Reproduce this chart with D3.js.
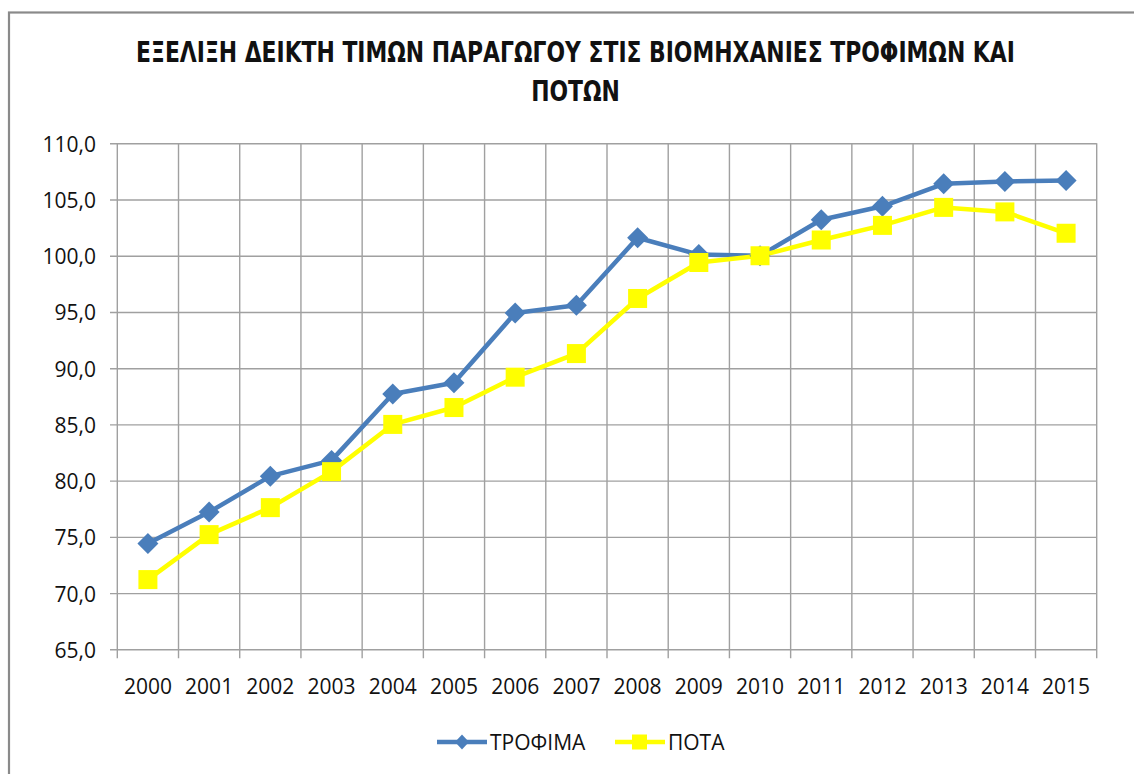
<!DOCTYPE html>
<html>
<head>
<meta charset="utf-8">
<script src="https://cdn.jsdelivr.net/npm/d3@7"></script>
<style>
  html, body { margin: 0; padding: 0; background: #fff; }
  svg { display: block; }
</style>
</head>
<body>
<svg id="chart" width="1134" height="774"></svg>
<script>
const years = ["2000","2001","2002","2003","2004","2005","2006","2007","2008","2009","2010","2011","2012","2013","2014","2015"];
const trofima = [74.4, 77.2, 80.4, 81.8, 87.7, 88.7, 94.9, 95.6, 101.6, 100.1, 100.0, 103.2, 104.4, 106.4, 106.6, 106.7];
const pota = [71.2, 75.2, 77.6, 80.8, 85.0, 86.5, 89.2, 91.3, 96.2, 99.4, 100.0, 101.4, 102.7, 104.3, 103.9, 102.0];
const yTicks = [65, 70, 75, 80, 85, 90, 95, 100, 105, 110];
const seriesNames = ["ΤΡΟΦΙΜΑ", "ΠΟΤΑ"];
const titleLines = ["ΕΞΕΛΙΞΗ ΔΕΙΚΤΗ ΤΙΜΩΝ ΠΑΡΑΓΩΓΟΥ ΣΤΙΣ ΒΙΟΜΗΧΑΝΙΕΣ ΤΡΟΦΙΜΩΝ ΚΑΙ", "ΠΟΤΩΝ"];

const svg = d3.select("#chart");
const blue = "#4A7EBB", yellow = "#FFFF00", grid = "#A0A0A0";
const font = "'Open Sans', 'DejaVu Sans', sans-serif";

// chart border
svg.append("rect").attr("x", 9).attr("y", 12.5).attr("width", 1140).attr("height", 780)
  .attr("fill", "#fff").attr("stroke", "#8A8A8A").attr("stroke-width", 2.2);

const x = d3.scaleBand().domain(years).range([117.3, 1096.7]);
const y = d3.scaleLinear().domain([65, 110]).range([649.3, 143.3]);

// horizontal gridlines + y axis labels
const yAxis = d3.axisLeft(y).tickValues(yTicks).tickSize(-(1096.7 - 110)).tickPadding(14)
  .tickFormat(d => d3.format(".1f")(d).replace(".", ","));
const gy = svg.append("g").attr("transform", "translate(110,0)").call(yAxis);
gy.select(".domain").remove();
gy.selectAll(".tick line").attr("stroke", grid).attr("stroke-width", 1.4);
gy.selectAll(".tick text").attr("font-family", font).attr("font-size", 21).attr("fill", "#111")
  .attr("dy", "0.38em");

// vertical gridlines (category boundaries)
const bounds = years.map(d => x(d)).concat([x(years[years.length - 1]) + x.bandwidth()]);
svg.append("g").selectAll("line").data(bounds).join("line")
  .attr("x1", d => d).attr("x2", d => d).attr("y1", y(110)).attr("y2", y(65) + 9)
  .attr("stroke", grid).attr("stroke-width", 1.4);

// x labels
const xAxis = d3.axisBottom(x).tickSize(0).tickPadding(0);
const gx = svg.append("g").attr("transform", "translate(0,694)").call(xAxis);
gx.select(".domain").remove();
gx.selectAll(".tick text").attr("font-family", font).attr("font-size", 21).attr("fill", "#111")
  .attr("dy", 0).attr("y", 0);

const cx = d => x(d) + x.bandwidth() / 2;
const line = d3.line().x((d, i) => cx(years[i])).y(d => y(d));

// series lines
svg.append("path").datum(trofima).attr("d", line).attr("fill", "none")
  .attr("stroke", blue).attr("stroke-width", 4.5).attr("stroke-linejoin", "round");
svg.append("path").datum(pota).attr("d", line).attr("fill", "none")
  .attr("stroke", yellow).attr("stroke-width", 4.5).attr("stroke-linejoin", "round");

// markers
const dsz = 10.5; // half diagonal
svg.append("g").selectAll("path").data(trofima).join("path")
  .attr("d", (d, i) => {
    const px = cx(years[i]), py = y(d);
    return `M${px},${py - dsz}L${px + dsz},${py}L${px},${py + dsz}L${px - dsz},${py}Z`;
  })
  .attr("fill", blue);
const ssz = 19;
svg.append("g").selectAll("rect").data(pota).join("rect")
  .attr("x", (d, i) => cx(years[i]) - ssz / 2).attr("y", d => y(d) - ssz / 2)
  .attr("width", ssz).attr("height", ssz).attr("fill", yellow);

// title (condensed horizontally with a transform so its box stays inside the page)
const titleFont = "'Liberation Sans Narrow', 'DejaVu Sans Condensed', 'Open Sans', sans-serif";
const g1 = svg.append("g");
const t1 = g1.append("text").attr("x", 0).attr("y", 0).attr("text-anchor", "middle")
  .attr("font-family", titleFont).attr("font-weight", "bold").attr("font-size", 28)
  .attr("fill", "#111").text(titleLines[0]);
const nat1 = t1.node().getComputedTextLength();
const ratio = Math.min(1, 879 / nat1);
g1.attr("transform", `translate(575.5,62) scale(${ratio},1)`);
const g2 = svg.append("g").attr("transform", `translate(575.5,101) scale(${ratio},1)`);
g2.append("text").attr("x", 0).attr("y", 0).attr("text-anchor", "middle")
  .attr("font-family", titleFont).attr("font-weight", "bold").attr("font-size", 28)
  .attr("fill", "#111").text(titleLines[1]);

// legend
const ly = 742;
const leg = svg.append("g");
leg.append("line").attr("x1", 437).attr("x2", 487).attr("y1", ly).attr("y2", ly)
  .attr("stroke", blue).attr("stroke-width", 4.5);
leg.append("path").attr("d", `M462,${ly - 7.5}L469,${ly}L462,${ly + 7.5}L455,${ly}Z`).attr("fill", blue);
leg.append("text").attr("x", 490).attr("y", ly + 8).attr("font-family", font).attr("font-size", 21)
  .attr("fill", "#111").text(seriesNames[0]);
leg.append("line").attr("x1", 615).attr("x2", 665).attr("y1", ly).attr("y2", ly)
  .attr("stroke", yellow).attr("stroke-width", 4.5);
leg.append("rect").attr("x", 632).attr("y", ly - 7.5).attr("width", 15).attr("height", 15).attr("fill", yellow);
leg.append("text").attr("x", 668).attr("y", ly + 8).attr("font-family", font).attr("font-size", 21)
  .attr("fill", "#111").text(seriesNames[1]);
</script>
</body>
</html>
